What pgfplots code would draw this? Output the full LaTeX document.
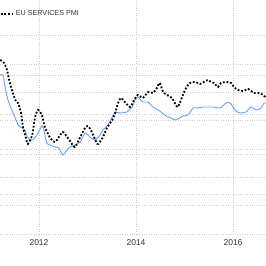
\documentclass[border=0pt]{standalone}
\usepackage{fontspec}
\setmainfont{Liberation Sans}
\usepackage{pgfplots}
\pgfplotsset{compat=1.18}
\definecolor{blueline}{RGB}{102,163,242}
\definecolor{txt}{RGB}{51,51,51}
\definecolor{gridc}{RGB}{205,205,205}
\begin{document}
\begin{tikzpicture}
\begin{axis}[
  name=ax,
  scale only axis, width=266pt, height=234pt,
  xmin=2011.196, xmax=2016.680, ymin=35, ymax=64.43,
  axis line style={draw=none},
  major tick length=0pt,
  xtick={2012,2014,2016}, xticklabels={2012,2014,2016},
  xticklabel style={anchor=center, yshift=-8.5pt, font=\fontsize{8.5}{9}\selectfont, text=txt},
  ytick={35,40,45,50,55,60,38.56,42.12,45.68,49.24,52.8,56.36},
  ymajorticks=false,
  grid=major,
  grid style={dotted, gridc, line width=0.6pt},
  /pgf/number format/assume math mode=true,
  legend style={at={(rel axis cs:0,0.94)}, anchor=west, draw=none, fill=none,
    inner sep=0pt, outer sep=0pt, nodes={inner sep=1pt, text=txt},
    font=\fontsize{7.2}{8}\selectfont},
  legend image code/.code={\draw[black, line width=1.8pt, dash pattern=on 1.8pt off 1.8pt] (-2pt,0pt) -- (11pt,0pt);},
]
\addplot[blueline, line width=0.9pt, smooth, tension=0.4, forget plot] coordinates {
(2011.20,55.00) (2011.26,55.00) (2011.30,53.49) (2011.36,51.86) (2011.44,50.60)
(2011.51,49.59) (2011.57,48.71) (2011.65,48.33) (2011.71,48.08) (2011.77,47.08)
(2011.86,46.82) (2011.96,47.45) (2012.06,48.58) (2012.10,48.08) (2012.16,46.45)
(2012.23,46.19) (2012.33,45.94) (2012.41,45.82) (2012.49,44.94) (2012.58,45.57)
(2012.64,45.94) (2012.74,46.19) (2012.85,46.57) (2012.95,47.70) (2013.05,47.20)
(2013.15,46.82) (2013.26,47.45) (2013.32,48.08) (2013.42,48.71) (2013.51,49.72)
(2013.57,50.35) (2013.67,50.22) (2013.81,50.35) (2013.92,50.97) (2013.98,51.86)
(2014.04,52.23) (2014.14,51.60) (2014.25,51.60) (2014.35,50.97) (2014.49,50.47)
(2014.62,49.84) (2014.72,49.59) (2014.82,49.34) (2014.97,49.84) (2015.07,49.97)
(2015.18,50.85) (2015.28,50.85) (2015.38,50.97) (2015.48,50.97) (2015.59,50.97)
(2015.73,50.85) (2015.86,51.48) (2015.94,51.48) (2016.04,50.60) (2016.14,50.22)
(2016.27,50.35) (2016.37,50.97) (2016.47,50.60) (2016.58,50.85) (2016.64,51.48)
(2016.68,51.48)
};
\addplot[black, line width=1.8pt, dash pattern=on 1.8pt off 1.8pt, smooth, tension=0.4] coordinates {
(2011.20,56.89) (2011.28,56.51) (2011.34,55.63) (2011.40,53.99) (2011.46,52.74)
(2011.53,51.60) (2011.57,51.48) (2011.63,50.22) (2011.67,48.46) (2011.73,47.08)
(2011.77,46.32) (2011.86,47.45) (2011.92,49.72) (2011.98,50.60) (2012.06,49.97)
(2012.12,48.46) (2012.23,47.08) (2012.33,46.57) (2012.41,47.20) (2012.49,47.83)
(2012.58,47.20) (2012.64,46.70) (2012.74,45.94) (2012.85,47.20) (2012.95,48.33)
(2013.01,48.58) (2013.09,47.83) (2013.18,46.57) (2013.22,46.32) (2013.32,47.20)
(2013.40,48.33) (2013.51,49.34) (2013.57,50.22) (2013.63,51.48) (2013.69,52.11)
(2013.77,51.60) (2013.88,50.97) (2013.96,51.86) (2014.04,52.48) (2014.14,52.11)
(2014.25,52.86) (2014.35,52.74) (2014.43,53.36) (2014.49,53.99) (2014.56,52.86)
(2014.64,52.48) (2014.74,52.11) (2014.85,50.97) (2014.91,51.60) (2015.01,53.11)
(2015.11,53.99) (2015.22,54.12) (2015.32,53.87) (2015.40,54.12) (2015.48,54.37)
(2015.55,54.12) (2015.61,53.99) (2015.69,53.49) (2015.75,53.99) (2015.86,54.12)
(2015.96,53.99) (2016.02,53.49) (2016.10,53.11) (2016.21,52.99) (2016.31,53.24)
(2016.37,52.99) (2016.43,52.74) (2016.54,52.74) (2016.62,52.48) (2016.68,52.11)
};
\addlegendentry{EU SERVICES PMI}
\end{axis}
\pgfresetboundingbox
\path (ax.south west) ++(0,-32pt) rectangle (ax.north east);
\end{tikzpicture}
\end{document}
